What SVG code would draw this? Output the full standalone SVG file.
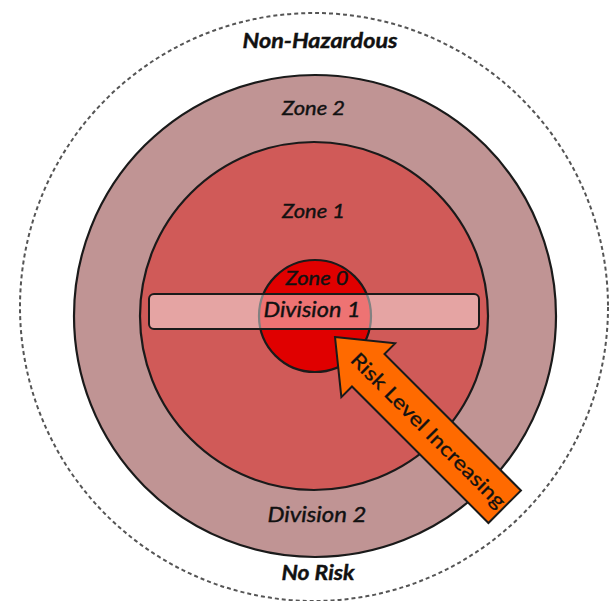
<svg xmlns="http://www.w3.org/2000/svg" width="614" height="601" viewBox="0 0 614 601">
<style>
.lbl{font-family:Lato,"Open Sans","Liberation Sans",sans-serif;font-style:italic;fill:#111;stroke:#111;stroke-width:0.4;text-anchor:middle}
.big{font-weight:bold;font-size:21px}
.zone{font-size:20px}
.div{font-size:22px}
.ring{stroke:#1a1a1a;stroke-width:2.2}
</style>
<rect width="614" height="601" fill="#fff"/>
<g id="non-hazardous">
<circle cx="314" cy="307" r="294" fill="none" stroke="#555" stroke-width="2" stroke-dasharray="4 3"/>
<text class="lbl big" x="320" y="48" textLength="155" lengthAdjust="spacingAndGlyphs">Non-Hazardous</text>
<text class="lbl big" x="318" y="580" textLength="73" lengthAdjust="spacingAndGlyphs">No Risk</text>
</g>
<g id="zone2">
<circle class="ring" cx="315" cy="316" r="241" fill="#c09494"/>
<text class="lbl zone" x="313.5" y="115" textLength="63" lengthAdjust="spacingAndGlyphs">Zone 2</text>
<text class="lbl div" x="317" y="522" textLength="99" lengthAdjust="spacingAndGlyphs">Division 2</text>
</g>
<g id="zone1">
<circle class="ring" cx="314" cy="316" r="174" fill="#d05a58"/>
<text class="lbl zone" x="313.5" y="218" textLength="63" lengthAdjust="spacingAndGlyphs">Zone 1</text>
</g>
<g id="zone0">
<circle class="ring" cx="315" cy="316" r="56" fill="#e00000"/>
<text class="lbl zone" x="317" y="285" textLength="63" lengthAdjust="spacingAndGlyphs" style="font-size:19px">Zone 0</text>
</g>
<g id="division1">
<rect x="149" y="294" width="330" height="35" rx="5" fill="#fff" fill-opacity="0.45" stroke="#1a1a1a" stroke-width="2"/>
<text class="lbl div" x="312" y="317" textLength="97" lengthAdjust="spacingAndGlyphs">Division 1</text>
</g>
<g id="risk-arrow" transform="translate(335 337) rotate(45)">
<polygon points="0,0 47,-38 47,-23 240,-23 240,23 47,23 47,38" fill="#ff6a00" stroke="#1a1a1a" stroke-width="2" stroke-linejoin="miter"/>
<text x="132" y="7" font-family="Lato,'Open Sans','Liberation Sans',sans-serif" font-size="20" fill="#111" stroke="#111" stroke-width="0.3" text-anchor="middle" textLength="210" lengthAdjust="spacingAndGlyphs">Risk Level Increasing</text>
</g>
</svg>
